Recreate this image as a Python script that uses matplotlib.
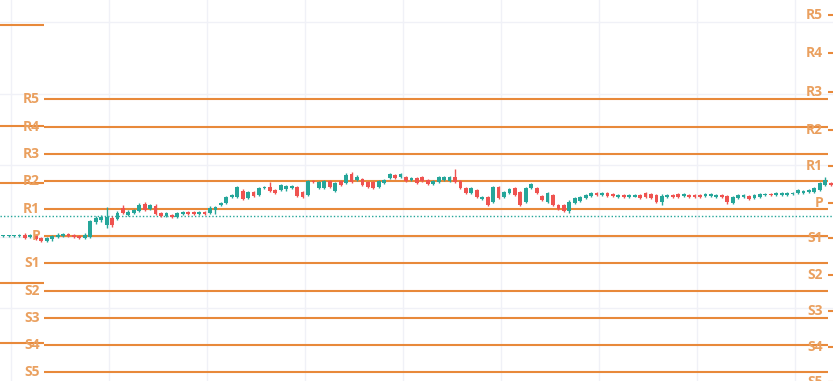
import numpy as np
import matplotlib.pyplot as plt

# 10-minute candles, index -8..144 (0 = start of the current pivot day)
open_ = [1.0850, 1.0850, 1.0850, 1.0850, 1.0851, 1.0849, 1.0851, 1.0848,
         1.0845, 1.0847, 1.0849, 1.0850, 1.0852, 1.0851, 1.0850, 1.0848,
         1.0849, 1.0864, 1.0866, 1.0861, 1.0868, 1.0867, 1.0878, 1.0871,
         1.0873, 1.0875, 1.0882, 1.0877, 1.0880, 1.0873, 1.0870, 1.0871,
         1.0869, 1.0872, 1.0874, 1.0874, 1.0872, 1.0874, 1.0873, 1.0876,
         1.0881, 1.0883, 1.0889, 1.0889, 1.0895, 1.0888, 1.0894, 1.0891,
         1.0898, 1.0899, 1.0896, 1.0896, 1.0897, 1.0898, 1.0899, 1.0894,
         1.0891, 1.0905, 1.0898, 1.0898, 1.0905, 1.0895, 1.0905, 1.0903,
         1.0912, 1.0906, 1.0907, 1.0904, 1.0904, 1.0899, 1.0903, 1.0908,
         1.0911, 1.0909, 1.0909, 1.0906, 1.0908, 1.0909, 1.0906, 1.0902,
         1.0904, 1.0906, 1.0905, 1.0909, 1.0905, 1.0898, 1.0893, 1.0896,
         1.0887, 1.0889, 1.0884, 1.0899, 1.0889, 1.0893, 1.0898, 1.0894,
         1.0884, 1.0898, 1.0898, 1.0890, 1.0884, 1.0891, 1.0881, 1.0881,
         1.0875, 1.0883, 1.0885, 1.0888, 1.0890, 1.0893, 1.0891, 1.0893,
         1.0892, 1.0889, 1.0891, 1.0889, 1.0889, 1.0891, 1.0893, 1.0892,
         1.0891, 1.0884, 1.0889, 1.0891, 1.0892, 1.0890, 1.0891, 1.0891,
         1.0891, 1.0890, 1.0890, 1.0889, 1.0891, 1.0890, 1.0883, 1.0888,
         1.0889, 1.0890, 1.0888, 1.0889, 1.0891, 1.0892, 1.0891, 1.0891,
         1.0891, 1.0892, 1.0893, 1.0893, 1.0894, 1.0894, 1.0896, 1.0901,
         1.0903]
close = [1.0850, 1.0850, 1.0850, 1.0851, 1.0848, 1.0851, 1.0847, 1.0845,
         1.0848, 1.0850, 1.0851, 1.0852, 1.0850, 1.0849, 1.0848, 1.0851,
         1.0865, 1.0868, 1.0869, 1.0869, 1.0861, 1.0873, 1.0873, 1.0874,
         1.0876, 1.0881, 1.0876, 1.0881, 1.0872, 1.0870, 1.0873, 1.0869,
         1.0873, 1.0874, 1.0872, 1.0872, 1.0874, 1.0872, 1.0878, 1.0879,
         1.0883, 1.0889, 1.0891, 1.0899, 1.0887, 1.0894, 1.0890, 1.0898,
         1.0899, 1.0895, 1.0893, 1.0901, 1.0900, 1.0900, 1.0890, 1.0889,
         1.0905, 1.0904, 1.0904, 1.0905, 1.0899, 1.0903, 1.0901, 1.0911,
         1.0904, 1.0909, 1.0901, 1.0899, 1.0898, 1.0905, 1.0906, 1.0912,
         1.0908, 1.0912, 1.0905, 1.0908, 1.0903, 1.0905, 1.0902, 1.0905,
         1.0909, 1.0909, 1.0909, 1.0904, 1.0898, 1.0893, 1.0898, 1.0889,
         1.0889, 1.0881, 1.0899, 1.0888, 1.0894, 1.0897, 1.0891, 1.0881,
         1.0898, 1.0902, 1.0893, 1.0886, 1.0893, 1.0881, 1.0877, 1.0875,
         1.0884, 1.0888, 1.0889, 1.0891, 1.0893, 1.0891, 1.0893, 1.0890,
         1.0890, 1.0891, 1.0889, 1.0891, 1.0891, 1.0888, 1.0889, 1.0888,
         1.0884, 1.0890, 1.0891, 1.0889, 1.0889, 1.0892, 1.0889, 1.0889,
         1.0889, 1.0892, 1.0892, 1.0891, 1.0889, 1.0884, 1.0889, 1.0891,
         1.0891, 1.0887, 1.0891, 1.0892, 1.0892, 1.0891, 1.0893, 1.0893,
         1.0893, 1.0893, 1.0896, 1.0895, 1.0896, 1.0898, 1.0903, 1.0906,
         1.0901]
high = [1.0851, 1.0851, 1.0851, 1.0852, 1.0853, 1.0852, 1.0852, 1.0849,
        1.0849, 1.0851, 1.0853, 1.0853, 1.0853, 1.0852, 1.0851, 1.0853,
        1.0866, 1.0870, 1.0871, 1.0879, 1.0870, 1.0875, 1.0881, 1.0876,
        1.0877, 1.0883, 1.0884, 1.0882, 1.0882, 1.0874, 1.0874, 1.0872,
        1.0874, 1.0875, 1.0875, 1.0875, 1.0875, 1.0875, 1.0880, 1.0880,
        1.0884, 1.0890, 1.0892, 1.0900, 1.0897, 1.0895, 1.0895, 1.0899,
        1.0900, 1.0904, 1.0897, 1.0902, 1.0901, 1.0901, 1.0900, 1.0895,
        1.0906, 1.0906, 1.0905, 1.0906, 1.0906, 1.0904, 1.0906, 1.0913,
        1.0914, 1.0911, 1.0908, 1.0905, 1.0905, 1.0906, 1.0907, 1.0913,
        1.0912, 1.0913, 1.0910, 1.0909, 1.0909, 1.0910, 1.0907, 1.0906,
        1.0910, 1.0910, 1.0910, 1.0917, 1.0906, 1.0899, 1.0899, 1.0897,
        1.0890, 1.0890, 1.0900, 1.0900, 1.0895, 1.0898, 1.0899, 1.0895,
        1.0899, 1.0903, 1.0899, 1.0891, 1.0894, 1.0892, 1.0882, 1.0882,
        1.0886, 1.0889, 1.0890, 1.0892, 1.0894, 1.0894, 1.0894, 1.0894,
        1.0893, 1.0892, 1.0892, 1.0892, 1.0892, 1.0892, 1.0894, 1.0893,
        1.0892, 1.0892, 1.0892, 1.0892, 1.0893, 1.0893, 1.0892, 1.0892,
        1.0892, 1.0893, 1.0893, 1.0892, 1.0892, 1.0891, 1.0890, 1.0892,
        1.0892, 1.0891, 1.0892, 1.0893, 1.0893, 1.0893, 1.0894, 1.0894,
        1.0894, 1.0894, 1.0897, 1.0896, 1.0897, 1.0899, 1.0904, 1.0909,
        1.0904]
low = [1.0849, 1.0849, 1.0849, 1.0849, 1.0847, 1.0848, 1.0846, 1.0844,
       1.0844, 1.0845, 1.0848, 1.0849, 1.0849, 1.0848, 1.0847, 1.0847,
       1.0848, 1.0862, 1.0864, 1.0858, 1.0859, 1.0866, 1.0872, 1.0870,
       1.0872, 1.0874, 1.0875, 1.0876, 1.0871, 1.0869, 1.0869, 1.0868,
       1.0868, 1.0871, 1.0871, 1.0871, 1.0871, 1.0871, 1.0872, 1.0872,
       1.0880, 1.0882, 1.0888, 1.0888, 1.0886, 1.0887, 1.0889, 1.0890,
       1.0897, 1.0894, 1.0892, 1.0895, 1.0895, 1.0897, 1.0889, 1.0888,
       1.0890, 1.0903, 1.0897, 1.0897, 1.0898, 1.0894, 1.0900, 1.0902,
       1.0903, 1.0905, 1.0900, 1.0898, 1.0897, 1.0898, 1.0902, 1.0907,
       1.0907, 1.0908, 1.0904, 1.0905, 1.0902, 1.0904, 1.0901, 1.0901,
       1.0903, 1.0905, 1.0904, 1.0903, 1.0897, 1.0892, 1.0892, 1.0888,
       1.0886, 1.0880, 1.0883, 1.0887, 1.0888, 1.0892, 1.0890, 1.0880,
       1.0883, 1.0897, 1.0892, 1.0885, 1.0883, 1.0880, 1.0876, 1.0874,
       1.0873, 1.0882, 1.0884, 1.0887, 1.0889, 1.0890, 1.0890, 1.0889,
       1.0889, 1.0888, 1.0888, 1.0888, 1.0889, 1.0887, 1.0888, 1.0887,
       1.0883, 1.0881, 1.0888, 1.0888, 1.0888, 1.0889, 1.0888, 1.0888,
       1.0888, 1.0889, 1.0889, 1.0888, 1.0888, 1.0882, 1.0882, 1.0887,
       1.0888, 1.0886, 1.0887, 1.0888, 1.0890, 1.0890, 1.0890, 1.0890,
       1.0890, 1.0891, 1.0892, 1.0892, 1.0893, 1.0893, 1.0895, 1.0900,
       1.0900]
first_bar = -8

# pivot levels per day
level_names = ['R5', 'R4', 'R3', 'R2', 'R1', 'P', 'S1', 'S2', 'S3', 'S4', 'S5']
prev_levels = [1.1061, 1.0960, 1.0903, 1.0803, 1.0743]
cur_levels = [1.0987, 1.0959, 1.0932, 1.0905, 1.0877, 1.0850,
              1.0823, 1.0795, 1.0768, 1.0741, 1.0714]
next_levels = [1.1071, 1.1033, 1.0994, 1.0956, 1.0920, 1.0883,
               1.0848, 1.0811, 1.0775, 1.0739, 1.0704]
day_edges = [-10, 0, 144, 152]
price_line = 1.0870

up_col = '#26a69a'
down_col = '#ef5350'
pivot_col = '#e8893a'
label_col = '#eaa05f'

fig = plt.figure(figsize=(8.33, 3.81), dpi=100)
ax = fig.add_axes([0, 0, 1, 1])

# light grid
for gx in np.arange(-6, 150, 18):
    ax.axvline(gx, color='#f0f1f7', lw=1, zorder=0)
for gy in [1.1064, 1.0992, 1.0921, 1.0849, 1.0778]:
    ax.axhline(gy, color='#f0f1f7', lw=1, zorder=0)

# pivot lines
for lv in prev_levels:
    ax.hlines(lv, day_edges[0], day_edges[1], color=pivot_col, lw=1.5, zorder=2)
for name, lv in zip(level_names, cur_levels):
    ax.hlines(lv, day_edges[1], day_edges[2], color=pivot_col, lw=1.5, zorder=2)
    ax.text(day_edges[1] - 0.7, lv, name, color=label_col, fontsize=10,
            fontweight='bold', family='Open Sans', ha='right', va='center', zorder=4)
for name, lv in zip(level_names, next_levels):
    ax.hlines(lv, day_edges[2], day_edges[3], color=pivot_col, lw=1.5, zorder=2)
    ax.text(day_edges[2] - 0.9, lv, name, color=label_col, fontsize=10,
            fontweight='bold', family='Open Sans', ha='right', va='center', zorder=4)

ax.axhline(price_line, color=up_col, lw=1, ls=(0, (1, 1.5)), zorder=2)

# candles
o = np.array(open_)
c = np.array(close)
h = np.array(high)
l = np.array(low)
x = np.arange(first_bar, first_bar + len(o)) + 0.5
cols = np.where(c >= o, up_col, down_col)
ax.vlines(x, l, h, color=cols, lw=1, zorder=3)
body = np.maximum(np.abs(c - o), 0.00009)
ax.bar(x, body, bottom=np.minimum(o, c), width=0.7, color=cols, lw=0, zorder=3)

ax.set_xlim(-8.08, 144.93)
ax.set_ylim(1.0705, 1.1086)
ax.axis('off')

fig.savefig('out.png', dpi=100, facecolor='white')
